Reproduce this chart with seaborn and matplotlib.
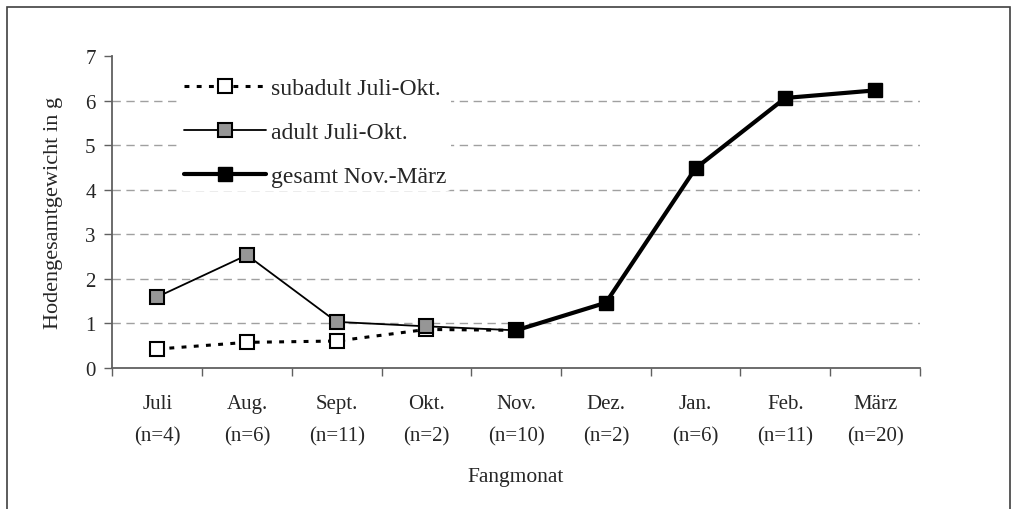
import numpy as np
import pandas as pd
import matplotlib.pyplot as plt
import seaborn as sns
from matplotlib.patches import Rectangle

# Monate und Stichprobengroessen
MONTHS = ['Juli', 'Aug.', 'Sept.', 'Okt.', 'Nov.', 'Dez.', 'Jan.', 'Feb.', 'März']
N_LABELS = ['(n=4)', '(n=6)', '(n=11)', '(n=2)', '(n=10)', '(n=2)', '(n=6)', '(n=11)', '(n=20)']

# Werte (Hodengesamtgewicht in g)
SUBADULT_MONTHS = ['Juli', 'Aug.', 'Sept.', 'Okt.', 'Nov.']
SUBADULT = [0.42, 0.57, 0.60, 0.86, 0.84]
ADULT_MONTHS = ['Juli', 'Aug.', 'Sept.', 'Okt.', 'Nov.']
ADULT = [1.59, 2.53, 1.03, 0.93, 0.84]
GESAMT_MONTHS = ['Nov.', 'Dez.', 'Jan.', 'Feb.', 'März']
GESAMT = [0.84, 1.46, 4.48, 6.06, 6.23]


def make_df(months, values):
    pos = [MONTHS.index(m) + 0.5 for m in months]
    return pd.DataFrame({'x': pos, 'y': values})


sns.set_style('ticks')
plt.rcParams['font.family'] = ['Liberation Serif', 'DejaVu Serif']

fig = plt.figure(figsize=(10.12, 5.10), dpi=100)
ax = fig.add_axes([0.111, 0.277, 0.798, 0.611])

for y in range(1, 7):
    ax.axhline(y, color='#a0a0a0', linestyle=(0, (6, 4)), linewidth=1.0, zorder=0)

sns.lineplot(data=make_df(SUBADULT_MONTHS, SUBADULT), x='x', y='y', ax=ax,
             color='black', linewidth=2.2, linestyle=(0, (1.6, 2.4)),
             marker='s', markersize=10, markerfacecolor='white',
             markeredgecolor='black', markeredgewidth=1.5,
             label='subadult Juli-Okt.', zorder=3)
sns.lineplot(data=make_df(ADULT_MONTHS, ADULT), x='x', y='y', ax=ax,
             color='black', linewidth=1.3,
             marker='s', markersize=10, markerfacecolor='#969696',
             markeredgecolor='black', markeredgewidth=1.5,
             label='adult Juli-Okt.', zorder=4)
sns.lineplot(data=make_df(GESAMT_MONTHS, GESAMT), x='x', y='y', ax=ax,
             color='black', linewidth=3.0,
             marker='s', markersize=10.5, markerfacecolor='black',
             markeredgecolor='black', markeredgewidth=1.0,
             label='gesamt Nov.-März', zorder=5)

ax.set_xlim(0, len(MONTHS))
ax.set_ylim(0, 7)
ax.set_yticks(range(0, 8))
ax.set_xticks(np.arange(len(MONTHS)) + 0.5)
ax.set_xticklabels([f'{m}\n{n}' for m, n in zip(MONTHS, N_LABELS)], linespacing=1.95)
ax.set_xticks(np.arange(len(MONTHS) + 1), minor=True)
ax.tick_params(axis='x', which='major', length=0, pad=19, labelsize=15)
ax.tick_params(axis='x', which='minor', length=6, width=1.0, color='#606060', direction='out')
ax.tick_params(axis='y', length=6, width=1.0, color='#606060', labelsize=15, pad=6)

for side in ['top', 'right']:
    ax.spines[side].set_visible(False)
for side in ['left', 'bottom']:
    ax.spines[side].set_color('#606060')
    ax.spines[side].set_linewidth(1.3)

ax.set_xlabel('Fangmonat', fontsize=15.5, labelpad=15)
ax.set_ylabel('Hodengesamtgewicht in g', fontsize=16, labelpad=16)

leg = ax.legend(loc='upper left', bbox_to_anchor=(0.068, 0.985), frameon=True,
                fontsize=17, handlelength=3.5, handletextpad=0.2,
                labelspacing=0.95, borderpad=0.2)
leg.get_frame().set_facecolor('white')
leg.get_frame().set_edgecolor('none')
leg.get_frame().set_alpha(1.0)

# Rahmen um die Grafik (unten abgeschnitten wie im Original)
fig.patches.append(Rectangle((0.007, -0.05), 0.991, 1.034, transform=fig.transFigure,
                             fill=False, edgecolor='#404040', linewidth=1.2))

fig.savefig('out.png', dpi=100, facecolor='white')
